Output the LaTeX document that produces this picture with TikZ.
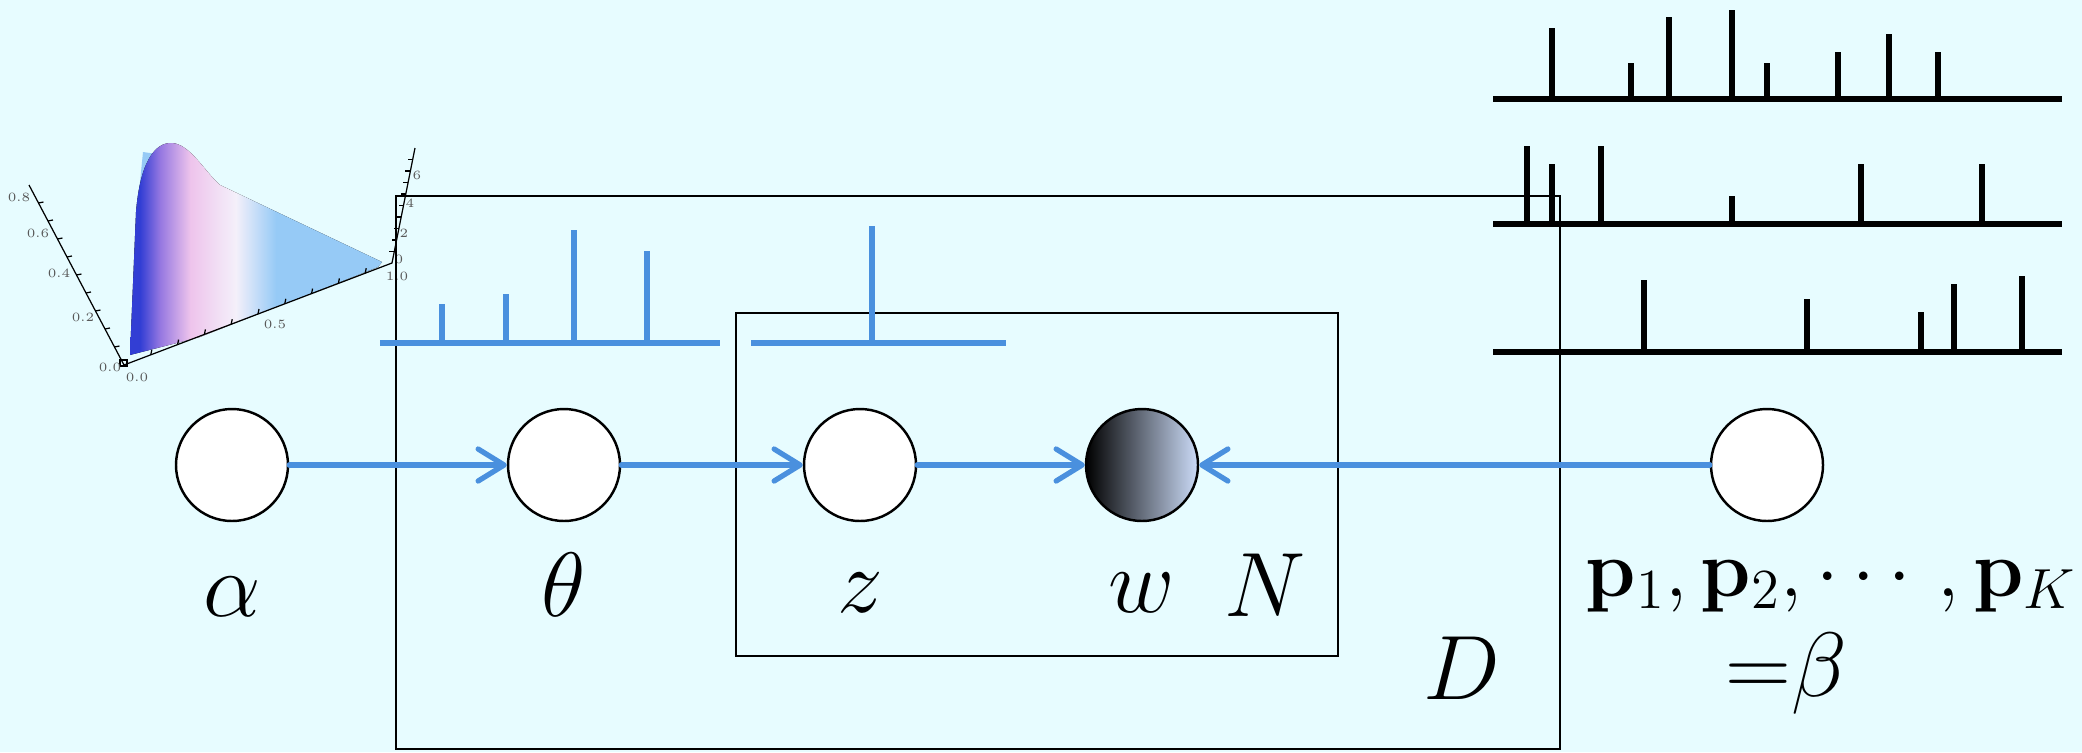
\RequirePackage{fix-cm}
\documentclass[tikz,border=0pt]{standalone}
\usepackage{amsmath,amssymb}
\usepackage{xcolor}
\usepackage{tikz}
\usetikzlibrary{arrows.meta,positioning,calc}
\definecolor{bgcyan}{RGB}{231,252,255}
\definecolor{ldablue}{RGB}{74,144,222}
\definecolor{wlight}{RGB}{204,220,248}
\definecolor{surfdark}{RGB}{50,62,212}
\definecolor{surfmid}{RGB}{150,120,225}
\definecolor{surfpink}{RGB}{238,196,236}
\definecolor{surfwhite}{RGB}{244,240,250}
\definecolor{surflight}{RGB}{150,202,246}
\pgfdeclarehorizontalshading{dirsurface}{100bp}{color(0bp)=(surfdark); color(27bp)=(surfdark); color(31bp)=(surfmid); color(37bp)=(surfpink); color(46bp)=(surfwhite); color(54bp)=(surflight); color(100bp)=(surflight)}
\tikzset{
  varnode/.style={circle, draw=black, line width=0.7pt, fill=white, minimum size=11.2mm, inner sep=0pt},
  obsnode/.style={varnode, left color=black, right color=wlight},
  ldaarrow/.style={-{Straight Barb[length=2.6mm, width=3.2mm, round]}, draw=ldablue, line width=1.5pt, line cap=round},
  plate/.style={draw=black, line width=0.8pt},
  bluebar/.style={draw=ldablue, line width=1.7pt},
  blackbar/.style={draw=black, line width=1.6pt},
  blackbase/.style={draw=black, line width=1.9pt},
  varlabel/.style={font=\fontsize{26}{30}\selectfont, anchor=base, inner sep=0pt},
  ticklabel/.style={font=\fontsize{3.6}{4}\selectfont, text=black!65, inner sep=0pt},
  axisline/.style={draw=black, line width=0.35pt}
}
\begin{document}
\begin{tikzpicture}
  \fill[bgcyan] (0,0) rectangle (20.82,7.52);
  \useasboundingbox (0,0) rectangle (20.82,7.52);

  % Dirichlet density
  \fill[surflight] (1.43,6.00) -- (1.57,5.98) -- (1.45,5.40) -- (1.38,5.50) -- cycle;
  \fill[shading=dirsurface] (1.30,3.97) -- (1.36,5.40) .. controls (1.40,5.90) and (1.55,6.10) .. (1.72,6.09)
    .. controls (1.90,6.08) and (2.05,5.80) .. (2.20,5.67) -- (3.82,4.90) -- (3.78,4.85) -- (2.00,4.15) -- cycle;
  \draw[axisline] (0.29,5.67) -- (1.24,3.87) -- (3.92,4.89) -- (4.15,6.04);
  \draw[axisline] (1.20,3.86) rectangle (1.27,3.92);
  \foreach \t in {0.1,0.2,...,0.9}
    \draw[axisline] ($(0.29,5.67)!\t!(1.24,3.87)$) -- ++(0.05,0.01);
  \foreach \t in {0.1,0.2,...,0.9}
    \draw[axisline] ($(1.24,3.87)!\t!(3.92,4.89)$) -- ++(0.01,0.05);
  \foreach \t in {0.1,0.2,...,0.9}
    \draw[axisline] ($(3.92,4.89)!\t!(4.15,6.04)$) -- ++(-0.05,0);
  \node[ticklabel] (yeight) at (0.19,5.55) {0.8};
  \node[ticklabel] (ysix) at (0.38,5.19) {0.6};
  \node[ticklabel] (yfour) at (0.59,4.79) {0.4};
  \node[ticklabel] (ytwo) at (0.83,4.35) {0.2};
  \node[ticklabel] (yzero) at (1.10,3.85) {0.0};
  \node[ticklabel] (xzero) at (1.37,3.75) {0.0};
  \node[ticklabel] (xhalf) at (2.75,4.28) {0.5};
  \node[ticklabel] (xone) at (3.97,4.76) {1.0};
  \node[ticklabel] (zzero) at (3.99,4.93) {0};
  \node[ticklabel] (ztwo) at (4.04,5.19) {2};
  \node[ticklabel] (zfour) at (4.10,5.49) {4};
  \node[ticklabel] (zsix) at (4.17,5.77) {6};

  % plates
  \draw[plate] (3.96,5.56) rectangle (15.60,0.03);
  \draw[plate] (7.36,4.39) rectangle (13.38,0.96);

  % topic proportions and topic assignment
  \draw[bluebar] (3.80,4.09) -- (7.20,4.09);
  \draw[bluebar] (4.42,4.09) -- (4.42,4.48) (5.06,4.09) -- (5.06,4.58)
    (5.74,4.09) -- (5.74,5.22) (6.47,4.09) -- (6.47,5.01);
  \draw[bluebar] (7.51,4.09) -- (10.06,4.09) (8.72,4.09) -- (8.72,5.26);

  % topics
  \draw[blackbase] (14.93,6.53) -- (20.62,6.53);
  \draw[blackbar] (15.52,6.53) -- (15.52,7.24) (16.31,6.53) -- (16.31,6.89)
    (16.69,6.53) -- (16.69,7.35) (17.32,6.53) -- (17.32,7.42)
    (17.67,6.53) -- (17.67,6.89) (18.38,6.53) -- (18.38,7.00)
    (18.89,6.53) -- (18.89,7.18) (19.38,6.53) -- (19.38,7.00);
  \draw[blackbase] (14.93,5.28) -- (20.62,5.28);
  \draw[blackbar] (15.27,5.28) -- (15.27,6.06) (15.52,5.28) -- (15.52,5.88)
    (16.01,5.28) -- (16.01,6.06) (17.32,5.28) -- (17.32,5.56)
    (18.61,5.28) -- (18.61,5.88) (19.82,5.28) -- (19.82,5.88);
  \draw[blackbase] (14.93,4.00) -- (20.62,4.00);
  \draw[blackbar] (16.44,4.00) -- (16.44,4.72) (18.07,4.00) -- (18.07,4.53)
    (19.21,4.00) -- (19.21,4.40) (19.54,4.00) -- (19.54,4.68)
    (20.22,4.00) -- (20.22,4.76);

  % variables
  \node[varnode] (alpha) at (2.32,2.87) {};
  \node[varnode] (theta) at (5.64,2.87) {};
  \node[varnode] (z) at (8.60,2.87) {};
  \node[obsnode] (w) at (11.42,2.87) {};
  \node[varnode] (beta) at (17.67,2.87) {};

  \draw[ldaarrow] (alpha) -- (theta);
  \draw[ldaarrow] (theta) -- (z);
  \draw[ldaarrow] (z) -- (w);
  \draw[ldaarrow] (beta) -- (w);

  \node[varlabel] (alphalab) at (2.32,1.36) {$\alpha$};
  \node[varlabel] (thetalab) at (5.64,1.36) {$\theta$};
  \node[varlabel] (zlab) at (8.60,1.40) {$z$};
  \node[varlabel] (wlab) at (11.42,1.40) {$w$};
  \node[varlabel] (nlab) at (12.65,1.36) {$N$};
  \node[varlabel] (dlab) at (14.62,0.53) {$D$};
  \node[varlabel, font=\fontsize{23}{27}\selectfont] (plab) at (18.31,1.56) {$\mathbf{p}_1,\mathbf{p}_2,\cdots,\mathbf{p}_K$};
  \node[varlabel] (betalab) at (17.86,0.56) {${=}\beta$};
\end{tikzpicture}
\end{document}
